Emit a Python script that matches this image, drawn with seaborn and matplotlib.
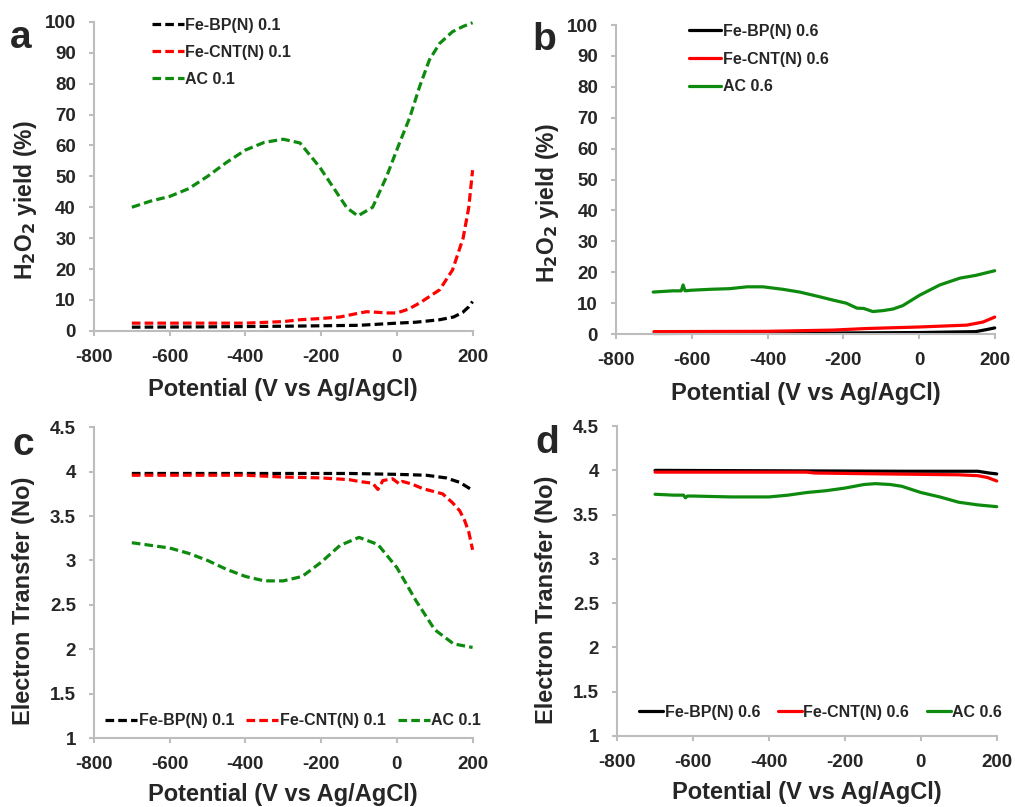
import numpy as np
import pandas as pd
import seaborn as sns
import matplotlib.pyplot as plt
from matplotlib.ticker import FuncFormatter

# ---- panel a : H2O2 yield, 0.1 (dashed)
a_x_bp = [-700, -500, -300, -100, 0, 50, 113, 150, 174, 190, 200]
a_y_bp = [1.2, 1.3, 1.5, 1.8, 2.5, 2.8, 3.6, 4.5, 6.0, 7.8, 9.5]
a_x_cnt = [-700, -500, -400, -300, -256, -200, -150, -110, -80, -50, -25, 0, 30, 60, 113, 147, 175, 190, 200]
a_y_cnt = [2.5, 2.5, 2.5, 3.0, 3.6, 4.0, 4.5, 5.5, 6.2, 6.0, 5.8, 5.8, 7.0, 9.0, 13.3, 19.7, 30.0, 40.0, 52.0]
a_x_ac = [-700, -650, -600, -550, -500, -450, -400, -350, -300, -256, -204, -169, -132, -103, -64, -27,
          7, 34, 60, 86, 113, 147, 175, 200]
a_y_ac = [40, 42, 43.5, 46, 50, 54.5, 58.5, 61, 62, 60.8, 53, 46.6, 39.8, 37.2, 40, 50,
          60.8, 69, 79, 87.7, 93, 96.8, 98.5, 99.7]

# ---- panel b : H2O2 yield, 0.6 (solid)
b_x_bp = [-700, -300, 0, 150, 180, 200]
b_y_bp = [0.2, 0.3, 0.5, 0.8, 1.5, 2.0]
b_x_cnt = [-700, -400, -227, -140, 0, 126, 169, 200]
b_y_cnt = [0.8, 0.9, 1.3, 1.8, 2.3, 2.9, 3.9, 5.5]
b_x_ac = [-702, -650, -628, -623, -618, -600, -550, -500, -454, -412, -360, -315, -270, -227, -192,
          -164, -146, -122, -95, -69, -43, 2, 55, 108, 150, 200]
b_y_ac = [13.6, 14.0, 14.0, 15.9, 14.0, 14.2, 14.5, 14.7, 15.3, 15.3, 14.5, 13.6, 12.3, 11.0, 10.0,
          8.4, 8.3, 7.3, 7.6, 8.1, 9.2, 12.6, 15.9, 18.1, 19.0, 20.5]

# ---- panel c : electron transfer, 0.1 (dashed)
c_x_bp = [-700, -125, 0, 78, 130, 166, 200]
c_y_bp = [3.98, 3.98, 3.97, 3.96, 3.93, 3.88, 3.79]
c_x_cnt = [-700, -400, -300, -200, -125, -100, -64, -50, -37, -11, 7, 15, 40, 68, 121, 147, 166, 179, 190, 200]
c_y_cnt = [3.96, 3.96, 3.94, 3.93, 3.91, 3.89, 3.87, 3.80, 3.90, 3.92, 3.86, 3.89, 3.86, 3.81, 3.75,
           3.65, 3.56, 3.45, 3.32, 3.12]
c_x_ac = [-700, -600, -550, -500, -450, -400, -350, -300, -250, -200, -150, -100, -50, 0, 50, 100, 150, 200]
c_y_ac = [3.20, 3.14, 3.08, 3.00, 2.90, 2.82, 2.77, 2.77, 2.82, 2.98, 3.17, 3.26, 3.18, 2.92, 2.55,
          2.22, 2.06, 2.02]

# ---- panel d : electron transfer, 0.6 (solid)
d_x_bp = [-700, -50, 150, 180, 200]
d_y_bp = [4.00, 3.99, 3.99, 3.97, 3.96]
d_x_cnt = [-700, -300, -280, -100, 100, 150, 175, 200]
d_y_cnt = [3.98, 3.98, 3.97, 3.96, 3.95, 3.94, 3.92, 3.88]
d_x_ac = [-700, -650, -625, -620, -615, -600, -500, -400, -350, -300, -250, -200, -150, -120, -80, -50,
          0, 50, 100, 150, 200]
d_y_ac = [3.73, 3.72, 3.72, 3.69, 3.71, 3.71, 3.70, 3.70, 3.72, 3.75, 3.77, 3.80, 3.84, 3.85, 3.84, 3.82,
          3.75, 3.70, 3.64, 3.61, 3.59]

x_ticks = [-800, -600, -400, -200, 0, 200]
yield_ticks = list(range(0, 101, 10))
ne_ticks = [1, 1.5, 2, 2.5, 3, 3.5, 4, 4.5]

sns.set_style("white")
plt.rcParams['font.family'] = ['Liberation Sans', 'DejaVu Sans']
plt.rcParams['font.weight'] = 'bold'
plt.rcParams['axes.unicode_minus'] = False

GREEN = '#0e8a0e'
GRAY = '#bdbdbd'
DASH = (0, (2.7, 1.3))

fig = plt.figure(figsize=(10.15, 8.07), dpi=100)
ax_a = fig.add_axes([0.0926, 0.590, 0.373, 0.383])
ax_b = fig.add_axes([0.607, 0.586, 0.373, 0.383])
ax_c = fig.add_axes([0.0926, 0.0855, 0.373, 0.385])
ax_d = fig.add_axes([0.608, 0.088, 0.374, 0.384])


def draw(ax, series, ls, suffix):
    for xs, ys, col, name in series:
        df = pd.DataFrame({'x': xs, 'y': ys})
        sns.lineplot(data=df, x='x', y='y', ax=ax, color=col, lw=2.3, linestyle=ls,
                     label=name + ' ' + suffix, clip_on=False)


draw(ax_a, [(a_x_bp, a_y_bp, 'black', 'Fe-BP(N)'), (a_x_cnt, a_y_cnt, 'red', 'Fe-CNT(N)'),
            (a_x_ac, a_y_ac, GREEN, 'AC')], DASH, '0.1')
draw(ax_b, [(b_x_bp, b_y_bp, 'black', 'Fe-BP(N)'), (b_x_cnt, b_y_cnt, 'red', 'Fe-CNT(N)'),
            (b_x_ac, b_y_ac, GREEN, 'AC')], '-', '0.6')
draw(ax_c, [(c_x_bp, c_y_bp, 'black', 'Fe-BP(N)'), (c_x_cnt, c_y_cnt, 'red', 'Fe-CNT(N)'),
            (c_x_ac, c_y_ac, GREEN, 'AC')], DASH, '0.1')
draw(ax_d, [(d_x_bp, d_y_bp, 'black', 'Fe-BP(N)'), (d_x_cnt, d_y_cnt, 'red', 'Fe-CNT(N)'),
            (d_x_ac, d_y_ac, GREEN, 'AC')], '-', '0.6')

letter_pos = {'a': (0.010, 0.941), 'b': (0.525, 0.938), 'c': (0.012, 0.436), 'd': (0.527, 0.439)}

for ax, letter in zip([ax_a, ax_b, ax_c, ax_d], 'abcd'):
    ax.set_xlim(-800, 200)
    ax.set_xticks(x_ticks)
    if letter in 'ab':
        ax.set_ylim(0, 100)
        ax.set_yticks(yield_ticks)
        ax.set_ylabel('H$_\\mathbf{2}$O$_\\mathbf{2}$ yield (%)', fontsize=16.5, fontweight='bold')
        ax.yaxis.set_label_coords(-0.145, 0.424)
        xpad = 9
    else:
        ax.set_ylim(1, 4.5)
        ax.set_yticks(ne_ticks)
        ax.yaxis.set_major_formatter(FuncFormatter(lambda v, p: '%g' % v))
        ax.set_ylabel('Electron Transfer (No)', fontsize=17, fontweight='bold')
        ax.yaxis.set_label_coords(-0.155, 0.44)
        xpad = 7
    ax.set_xlabel('Potential (V vs Ag/AgCl)', fontsize=17, fontweight='bold', labelpad=xpad)
    for s in ['top', 'right']:
        ax.spines[s].set_visible(False)
    for s in ['left', 'bottom']:
        ax.spines[s].set_color(GRAY)
        ax.spines[s].set_linewidth(1.5)
    ax.tick_params(axis='both', direction='out', length=3.6, width=1.5, color=GRAY,
                   labelsize=13.5, pad=9.4, left=True, bottom=True)
    for t in ax.get_xticklabels() + ax.get_yticklabels():
        t.set_fontweight('bold')
    fx, fy = letter_pos[letter]
    fig.text(fx, fy, letter, fontsize=28, fontweight='bold', va='baseline', ha='left')

leg_kw = dict(frameon=False, prop={'size': 11.5, 'weight': 'bold'}, handletextpad=0.1)
ax_a.legend(loc='upper left', bbox_to_anchor=(0.115, 1.06), labelspacing=0.75, handlelength=2.0, **leg_kw)
ax_b.legend(loc='upper left', bbox_to_anchor=(0.155, 1.05), labelspacing=0.8, handlelength=2.0, **leg_kw)
ax_c.legend(loc='lower left', bbox_to_anchor=(-0.008, -0.015), ncol=3, columnspacing=0.75, handlelength=2.0, **leg_kw)
ax_d.legend(loc='lower left', bbox_to_anchor=(0.02, 0.005), ncol=3, columnspacing=1.1, handlelength=1.5, **leg_kw)

fig.savefig('out.png', dpi=100)
